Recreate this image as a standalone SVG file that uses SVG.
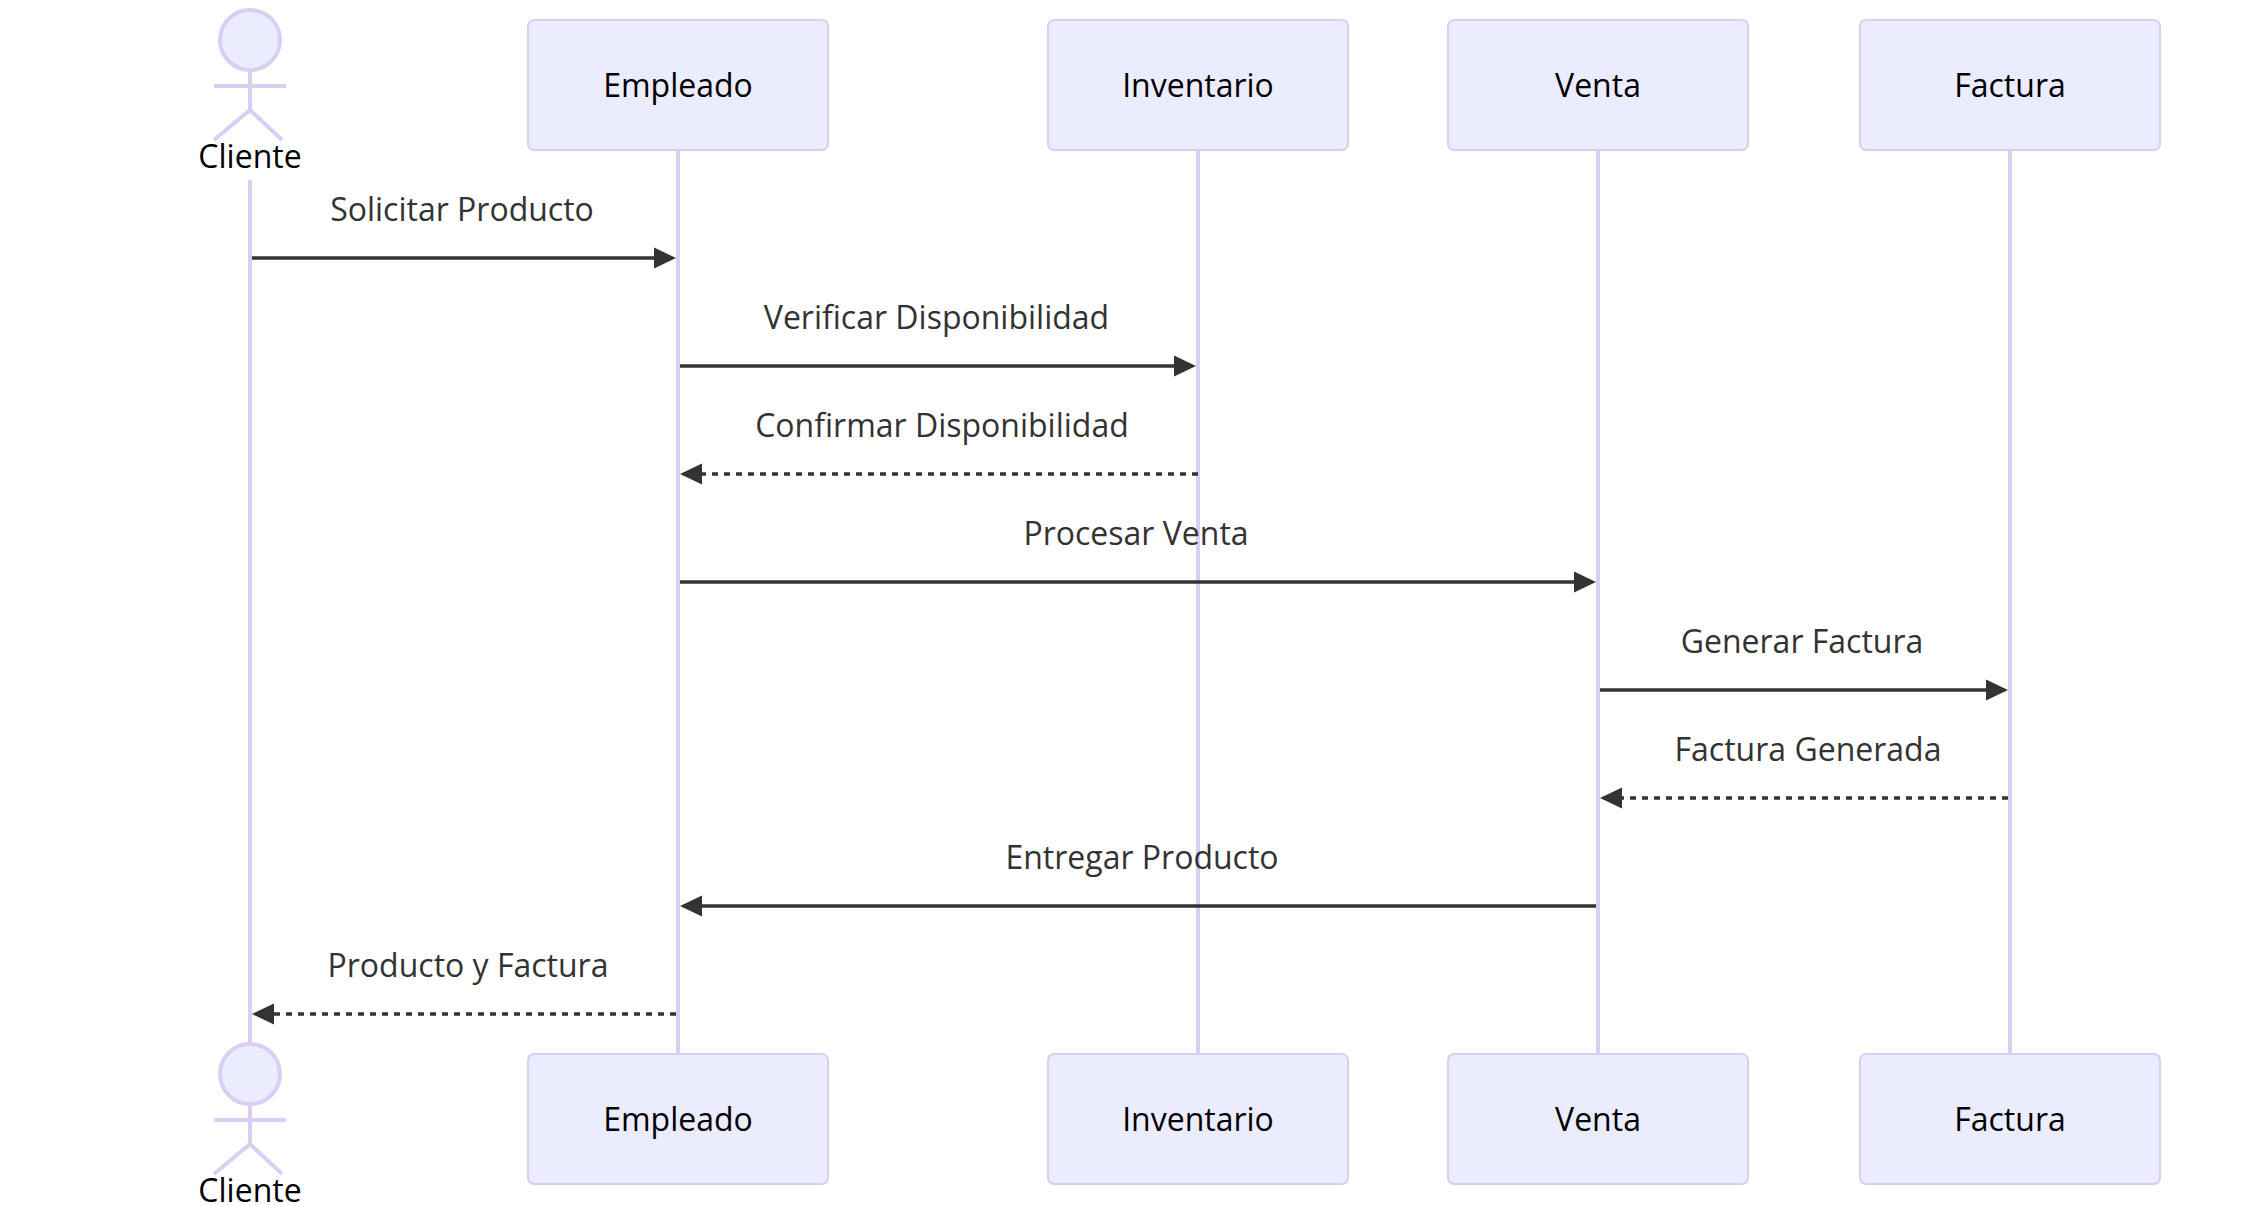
<svg xmlns="http://www.w3.org/2000/svg" width="2260" height="1206" viewBox="0 0 2260 1206">
<style>
text{font-family:"Open Sans","Noto Sans",sans-serif;font-size:32px;text-anchor:middle}
.box{fill:#ECECFF;stroke:#DACEF3;stroke-width:2}
.life{stroke:#DACEF3;stroke-width:4;fill:none}
.man{fill:none;stroke:#DACEF3;stroke-width:4}
.head{fill:#ECECFF;stroke:#DACEF3;stroke-width:4}
.lbl{fill:#000}
.msg{fill:#333}
.m{stroke:#333;stroke-width:3.5;fill:none;marker-end:url(#arrow)}
.d{stroke-dasharray:6 6}
</style>
<defs>
<marker id="arrow" viewBox="0 0 22 22" refX="18" refY="11" markerWidth="22" markerHeight="22" markerUnits="userSpaceOnUse" orient="auto"><path d="M0 0.5L22 11L0 21.5z" fill="#333"/></marker>
</defs>
<g id="lifelines">
<path class="life" d="M250 180V1043"/>
<path class="life" d="M678 150V1054"/>
<path class="life" d="M1198 150V1054"/>
<path class="life" d="M1598 150V1054"/>
<path class="life" d="M2010 150V1054"/>
</g>
<g id="actor-cliente-top">
<circle class="head" cx="250" cy="40" r="30"/>
<path class="man" d="M250 70V110M214 86H286M214 140L250 110L282 140"/>
<text class="lbl" x="250" y="167.5">Cliente</text>
</g>
<g id="actor-empleado-top"><rect class="box" x="528" y="20" width="300" height="130" rx="6"/><text class="lbl" x="678" y="97">Empleado</text></g>
<g id="actor-inventario-top"><rect class="box" x="1048" y="20" width="300" height="130" rx="6"/><text class="lbl" x="1198" y="97">Inventario</text></g>
<g id="actor-venta-top"><rect class="box" x="1448" y="20" width="300" height="130" rx="6"/><text class="lbl" x="1598" y="97">Venta</text></g>
<g id="actor-factura-top"><rect class="box" x="1860" y="20" width="300" height="130" rx="6"/><text class="lbl" x="2010" y="97">Factura</text></g>
<g id="actor-cliente-bottom">
<circle class="head" cx="250" cy="1074" r="30"/>
<path class="man" d="M250 1104V1144M214 1120H286M214 1174L250 1144L282 1174"/>
<text class="lbl" x="250" y="1201.5">Cliente</text>
</g>
<g id="actor-empleado-bottom"><rect class="box" x="528" y="1054" width="300" height="130" rx="6"/><text class="lbl" x="678" y="1131">Empleado</text></g>
<g id="actor-inventario-bottom"><rect class="box" x="1048" y="1054" width="300" height="130" rx="6"/><text class="lbl" x="1198" y="1131">Inventario</text></g>
<g id="actor-venta-bottom"><rect class="box" x="1448" y="1054" width="300" height="130" rx="6"/><text class="lbl" x="1598" y="1131">Venta</text></g>
<g id="actor-factura-bottom"><rect class="box" x="1860" y="1054" width="300" height="130" rx="6"/><text class="lbl" x="2010" y="1131">Factura</text></g>
<g id="connectors">
<line class="m" x1="252" y1="258" x2="672" y2="258"/>
<line class="m" x1="680" y1="366" x2="1192" y2="366"/>
<line class="m d" x1="1198" y1="474" x2="684" y2="474"/>
<line class="m" x1="680" y1="582" x2="1592" y2="582"/>
<line class="m" x1="1600" y1="690" x2="2004" y2="690"/>
<line class="m d" x1="2008" y1="798" x2="1604" y2="798"/>
<line class="m" x1="1596" y1="906" x2="684" y2="906"/>
<line class="m d" x1="676" y1="1014" x2="256" y2="1014"/>
</g>
<g id="labels">
<text class="msg" x="462" y="221">Solicitar Producto</text>
<text class="msg" x="936.5" y="329">Verificar Disponibilidad</text>
<text class="msg" x="942" y="437">Confirmar Disponibilidad</text>
<text class="msg" x="1136" y="545">Procesar Venta</text>
<text class="msg" x="1802" y="653">Generar Factura</text>
<text class="msg" x="1808" y="761">Factura Generada</text>
<text class="msg" x="1142" y="869">Entregar Producto</text>
<text class="msg" x="468" y="977">Producto y Factura</text>
</g>
</svg>
